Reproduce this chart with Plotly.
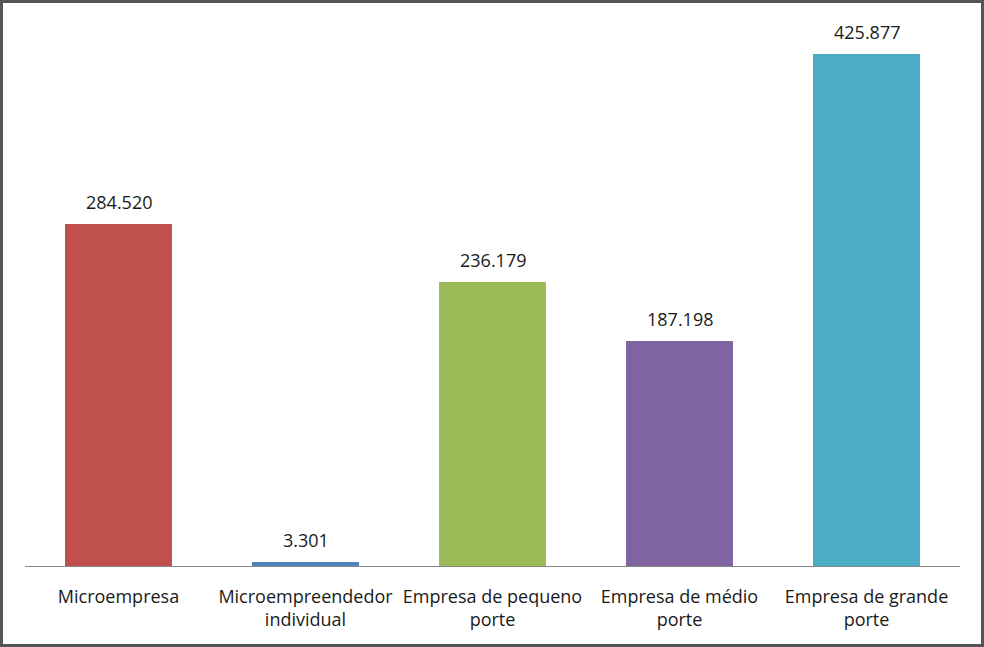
import plotly.graph_objects as go

categories = ["Microempresa", "Microempreendedor<br>individual", "Empresa de pequeno<br>porte",
              "Empresa de médio<br>porte", "Empresa de grande<br>porte"]
values = [284520, 3301, 236179, 187198, 425877]
value_labels = ["284.520", "3.301", "236.179", "187.198", "425.877"]
colors = ["#C0504D", "#4F81BD", "#9BBB59", "#8064A2", "#4BACC6"]

W, H = 984, 647
ml, mr, mt, mb = 25, 24, 25, 81

fig = go.Figure()
fig.add_trace(go.Bar(x=categories, y=values, marker=dict(color=colors, line=dict(width=0)),
                     hoverinfo="skip"))

for c, v, t in zip(categories, values, value_labels):
    fig.add_annotation(x=c, y=v, text=t, showarrow=False, yshift=22,
                       font=dict(family="Open Sans", size=18, color="#1a1a1a"))

pw = W - ml - mr
ph = H - mt - mb
fig.add_shape(type="rect", xref="paper", yref="paper",
              x0=-(ml - 1.5) / pw, x1=1 + (mr - 1.5) / pw,
              y0=-(mb - 1.5) / ph, y1=1 + (mt - 1.5) / ph,
              line=dict(color="#555555", width=3))

fig.update_layout(
    width=W, height=H,
    margin=dict(l=ml, r=mr, t=mt, b=mb, pad=0),
    paper_bgcolor="white", plot_bgcolor="white",
    bargap=0.428, showlegend=False,
    font=dict(family="Open Sans", size=18, color="#1a1a1a"),
    xaxis=dict(showline=True, linecolor="#868686", linewidth=1, ticks="", showgrid=False,
               ticklabelstandoff=14, tickfont=dict(size=18)),
    yaxis=dict(range=[0, 450000], visible=False, showgrid=False),
)
fig.write_html("out.html", config={"displayModeBar": False},
               post_script="document.body.style.margin='0';")
